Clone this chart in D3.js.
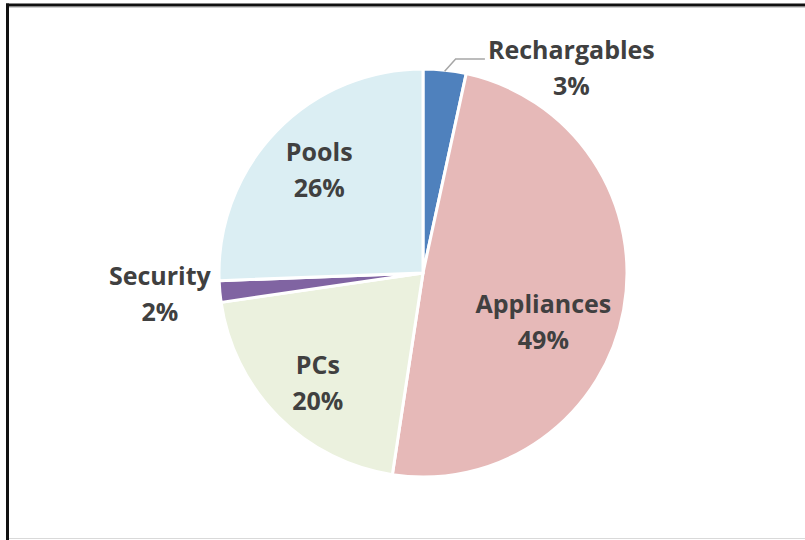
<!DOCTYPE html>
<html>
<head>
<meta charset="utf-8">
<script src="https://cdn.jsdelivr.net/npm/d3@7/dist/d3.min.js"></script>
<style>
  html, body { margin: 0; padding: 0; background: #fff; }
  svg { display: block; }
</style>
</head>
<body>
<div id="chart"></div>
<script>
// datos
const categories = ['Rechargables', 'Appliances', 'PCs', 'Security', 'Pools'];
const shares = [3.4, 49.0, 20.3, 1.7, 25.6];
const colors = ['#4F81BD', '#E6B9B8', '#EBF1DE', '#8064A2', '#DBEEF3'];

// layout
const width = 805;
const height = 540;
const cx = 423;
const cy = 273;
const radius = 204;
const fontSize = 25;
const capRatio = 0.714;
const lineGap = 36;
// donde Excel pone cada etiqueta (grados desde arriba, distancia al centro)
const labelSpot = {
  Rechargables: [35.9, 253],
  Appliances: [112.2, 130],
  PCs: [223.8, 152],
  Security: [265.4, 264],
  Pools: [314.7, 146]
};
const outside = ['Rechargables'];

const svg = d3.select('#chart')
  .append('svg')
  .attr('width', width)
  .attr('height', height);

// marco (recorte de pantalla)
svg.append('line')
  .attr('x1', 6).attr('x2', width)
  .attr('y1', 7.5).attr('y2', 7.5)
  .attr('stroke', '#d0d0d0').attr('stroke-width', 1);
svg.append('line')
  .attr('x1', 6).attr('x2', width)
  .attr('y1', 5).attr('y2', 5)
  .attr('stroke', '#111').attr('stroke-width', 3);
svg.append('line')
  .attr('x1', 7.5).attr('x2', 7.5)
  .attr('y1', 3.5).attr('y2', height)
  .attr('stroke', '#111').attr('stroke-width', 3);
svg.append('line')
  .attr('x1', 9).attr('x2', width)
  .attr('y1', 538.5).attr('y2', 538.5)
  .attr('stroke', '#d9d9d9').attr('stroke-width', 1);

const data = categories.map((c, i) => ({ name: c, value: shares[i], color: colors[i] }));
const total = d3.sum(shares);
const pct = d3.format('.0%');

const pie = d3.pie()
  .sort(null)
  .value(d => d.value);

const arc = d3.arc()
  .innerRadius(0)
  .outerRadius(radius);

const arcs = pie(data);

const groupPie = svg.append('g')
  .attr('class', 'pie')
  .attr('transform', `translate(${cx}, ${cy})`);

groupPie.selectAll('path')
  .data(arcs)
  .enter()
  .append('path')
  .attr('d', arc)
  .attr('fill', d => d.data.color)
  .attr('stroke', '#fff')
  .attr('stroke-width', 3)
  .attr('stroke-linejoin', 'round');

function polar(deg, r) {
  const a = deg * Math.PI / 180;
  return [r * Math.sin(a), -r * Math.cos(a)];
}

// etiquetas
const labels = groupPie.selectAll('.label')
  .data(arcs)
  .enter()
  .append('text')
  .attr('class', 'label')
  .attr('text-anchor', 'middle')
  .attr('font-family', '"Open Sans", Lato, sans-serif')
  .attr('font-weight', 'bold')
  .attr('font-size', fontSize)
  .attr('fill', '#404040')
  .attr('transform', d => {
    const s = labelSpot[d.data.name];
    const p = polar(s[0], s[1]);
    return `translate(${p[0]}, ${p[1]})`;
  });

const cap = fontSize * capRatio;
const capHalf = (cap + lineGap) / 2;

labels.append('tspan')
  .attr('x', 0)
  .attr('y', -capHalf + cap)
  .text(d => d.data.name);

labels.append('tspan')
  .attr('x', 0)
  .attr('y', -capHalf + cap + lineGap)
  .text(d => pct(d.data.value / total));

// linea guia para las etiquetas de fuera
labels.filter(d => outside.includes(d.data.name)).each(function (d) {
  const s = labelSpot[d.data.name];
  const p = polar(s[0], s[1]);
  const first = d3.select(this).select('tspan').node();
  const w = first.getComputedTextLength();
  const mid = (d.startAngle + d.endAngle) / 2 * 180 / Math.PI;
  const start = polar(mid, radius - 1);
  const yLine = p[1] - capHalf + cap;
  const xEnd = p[0] - w / 2 - 3;
  groupPie.append('polyline')
    .attr('points', [start, [start[0] + 11, yLine], [xEnd, yLine]].map(q => q.join(',')).join(' '))
    .attr('fill', 'none')
    .attr('stroke', '#A6A6A6')
    .attr('stroke-width', 1.5);
});
</script>
</body>
</html>
